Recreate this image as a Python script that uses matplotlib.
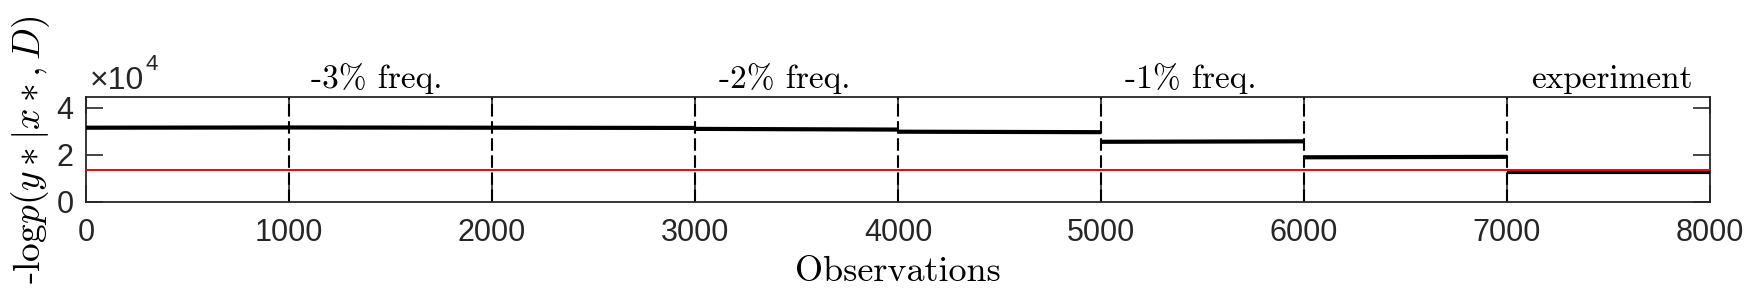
import matplotlib
matplotlib.use("Agg")
import matplotlib.pyplot as plt
from matplotlib.ticker import FuncFormatter

# -- data ---------------------------------------------------------------------
seg_start   = [0, 1000, 2000, 3000, 4000, 5000, 6000, 7000]
seg_end     = [1000, 2000, 3000, 4000, 5000, 6000, 7000, 8000]
level_start = [31500, 31600, 31500, 31000, 29800, 25500, 18900, 12800]
level_end   = [31600, 31500, 31400, 30700, 29600, 25700, 19100, 12800]
reference_level = 13500
boundaries = [1000, 2000, 3000, 4000, 5000, 6000, 7000]
labels  = ["-3% freq.", "-2% freq.", "-1% freq.", "experiment"]
label_x = [1110, 3120, 5120, 7120]
xticks = [0, 1000, 2000, 3000, 4000, 5000, 6000, 7000, 8000]
yticks = [0, 20000, 40000]

# -- style --------------------------------------------------------------------
plt.rcParams["font.family"] = ["Liberation Sans", "DejaVu Sans"]
plt.rcParams["mathtext.fontset"] = "cm"
SERIF = ["cmr10", "DejaVu Serif"]
AX_COLOR = "#262626"

fig = plt.figure(figsize=(17.48, 2.95), dpi=100)
ax = fig.add_axes([0.0492, 0.3163, 0.9291, 0.3559])

# log-likelihood trace, one piece per block of observations
for s, e, a, b in zip(seg_start, seg_end, level_start, level_end):
    ax.plot([s, e], [a, b], color="black", linewidth=3.0,
            solid_capstyle="butt", zorder=3)

ax.axhline(reference_level, color="#ff0000", linewidth=1.4, zorder=4)

for b in boundaries:
    ax.axvline(b, color="black", linewidth=1.5, linestyle=(0, (6, 2.2)), zorder=2)

ax.set_xlim(0, 8000)
ax.set_ylim(0, 44700)
ax.set_xticks(xticks)
ax.set_yticks(yticks)
ax.yaxis.set_major_formatter(FuncFormatter(lambda v, p: f"{v/1e4:g}"))
ax.tick_params(direction="in", length=12, width=1.2, colors=AX_COLOR,
               labelsize=22, top=True, right=True, pad=9)
ax.tick_params(axis="x", pad=12)
for sp in ax.spines.values():
    sp.set_color(AX_COLOR)
    sp.set_linewidth(1.3)

ax.set_xlabel("Observations", fontsize=26, color="black", family=SERIF)
ax.xaxis.set_label_coords(0.5, -0.52)
ax.set_ylabel("-log$p(y*|x*,D)$", fontsize=27, color="black", family=SERIF)
ax.yaxis.set_label_coords(-0.021, 0.5)

for x, t in zip(label_x, labels):
    ax.text(x, 1.08, t, transform=ax.get_xaxis_transform(), fontsize=24,
            ha="left", va="baseline", color="black", family=SERIF)

# exponent marker as drawn by the original tool
ax.text(0.0025, 1.07, "\u00d710", transform=ax.transAxes, fontsize=23,
        ha="left", va="baseline", color=AX_COLOR)
ax.text(0.0365, 1.25, "4", transform=ax.transAxes, fontsize=16,
        ha="left", va="baseline", color=AX_COLOR)

fig.savefig("out.png", dpi=100)
